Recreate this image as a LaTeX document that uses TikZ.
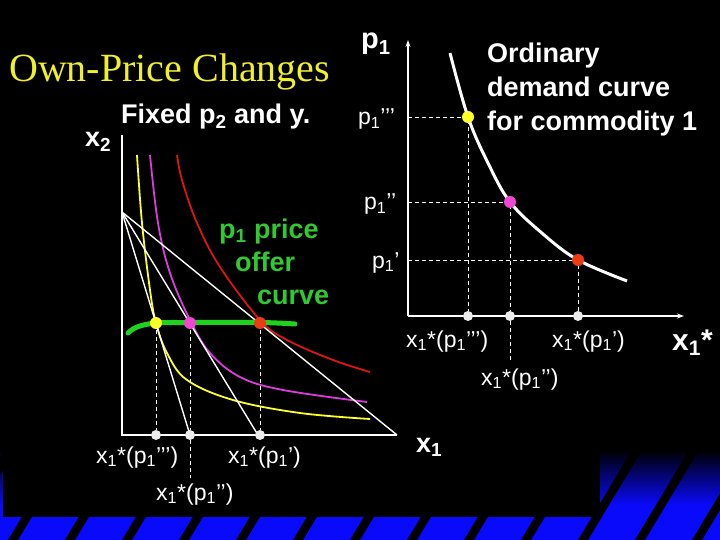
\documentclass[tikz,border=0pt]{standalone}
\usepackage{fontspec}
\setmainfont{Liberation Serif}
\setsansfont{Liberation Sans}
\usetikzlibrary{arrows.meta}
\definecolor{bgblue}{RGB}{10,10,250}
\definecolor{icyel}{RGB}{255,255,40}
\definecolor{icmag}{RGB}{220,60,220}
\definecolor{icred}{RGB}{220,20,20}
\definecolor{offgreen}{RGB}{30,210,30}
\definecolor{txtgreen}{RGB}{50,200,50}
\definecolor{dotred}{RGB}{235,60,20}
\definecolor{dotmag}{RGB}{240,70,210}
\definecolor{titleyel}{RGB}{240,240,40}
\begin{document}
\begin{tikzpicture}[x=1pt,y=-1pt,
  lab/.style={text=white,font=\sffamily\fontsize{23}{23}\selectfont,inner sep=0pt,anchor=base west},
  blab/.style={text=white,font=\sffamily\bfseries\fontsize{27}{27}\selectfont,inner sep=0pt,anchor=base west},
  glab/.style={text=txtgreen,font=\sffamily\bfseries\fontsize{27}{27}\selectfont,inner sep=0pt,anchor=base west},
  axisline/.style={white,line width=2pt},
  budget/.style={white,line width=1.4pt},
  guide/.style={white,line width=0.8pt,dash pattern=on 4pt off 3pt},
  icurve/.style={line width=1.8pt},
  bigdot/.style={circle,inner sep=0pt,minimum size=12pt},
  axdot/.style={circle,inner sep=0pt,minimum size=10pt,fill=white!85!gray}]
% background
\fill[black] (0,0) rectangle (720,540);
\useasboundingbox (0,0) rectangle (720,540);
\begin{scope}
  \clip (0,440) rectangle (720,540);
  \shade[top color=black,bottom color=bgblue] (0,450) rectangle (720,505);
  \fill[bgblue] (0,505) rectangle (720,540);
  \foreach \k in {-2,...,13}{
    \fill[black] ({8+57*\k},540) -- ++(10,0) -- ++(60,-100) -- ++(-10,0) -- cycle;
  }
\end{scope}
\fill[black] (3,0) rectangle (600,517);

% ---------------- left graph ----------------
\node[font=\fontsize{40}{40}\selectfont,text=titleyel,inner sep=0pt,anchor=base west] (title) at (9,82) {Own-Price Changes};
\node[blab] (fixed) at (121,124) {Fixed p\textsubscript{2} and y.};
\node[blab] (x2) at (85,147) {x\textsubscript{2}};

\coordinate (O) at (122,435);
\coordinate (Otop) at (122,135);
\coordinate (Oright) at (397,435);
\coordinate (B) at (122,212);
\coordinate (b1) at (190,435);
\coordinate (b2) at (258,435);
\coordinate (b3) at (397,435);

% indifference curves
\draw[icurve,icyel] plot[smooth,tension=0.6] coordinates {(137,155) (142,223) (150,290) (156,323) (167,353) (187,380) (233,400) (300,413) (370,419)};
\draw[icurve,icmag] plot[smooth,tension=0.6] coordinates {(150,155) (158,223) (170,273) (190,320) (210,353) (240,377) (283,390) (367,402)};
\draw[icurve,icred] plot[smooth,tension=0.6] coordinates {(177,155) (182,180) (197,223) (220,267) (260,320) (287,340) (333,360) (370,372)};

% budget lines
\draw[budget] (B) -- (b1);
\draw[budget] (B) -- (b2);
\draw[budget] (B) -- (b3);

% axes
\draw[axisline] (Otop) -- (O) -- (Oright);

% offer curve
\draw[offgreen,line width=5pt,line cap=round] plot[smooth,tension=0.6] coordinates {(128,333) (137,327) (156,323) (190,322.5) (260,322.5) (295,324)};

% tangency dots and axis dots
\node[axdot] (ay) at (156,435) {};
\node[axdot] (am) at (190,435) {};
\node[axdot] (ar) at (260,435) {};
\coordinate (amlow) at (190,478);
\coordinate (lyc) at (156,323);
\coordinate (lmc) at (190,323);
\coordinate (lrc) at (260,323);
\draw[guide] (lyc) -- (ay);
\draw[guide] (lmc) -- (am) -- (amlow);
\draw[guide] (lrc) -- (ar);
\node[bigdot,fill=icyel] (ly) at (lyc) {};
\node[bigdot,fill=dotmag] (lm) at (lmc) {};
\node[bigdot,fill=dotred] (lr) at (lrc) {};

\node[glab] (pp1) at (219,238) {p\textsubscript{1} price};
\node[glab] (pp2) at (235,271) {offer};
\node[glab] (pp3) at (257,304) {curve};

\node[lab] (lx3) at (96,463) {x\textsubscript{1}*(p\textsubscript{1}’’’)};
\node[lab] (lx1) at (228,463) {x\textsubscript{1}*(p\textsubscript{1}’)};
\node[lab] (lx2) at (156,500) {x\textsubscript{1}*(p\textsubscript{1}’’)};
\node[lab,font=\sffamily\bfseries\fontsize{27}{27}\selectfont] (lx) at (416,452) {x\textsubscript{1}};

% ---------------- right graph ----------------
\coordinate (R) at (408,316);
\coordinate (Rtop) at (408,40);
\coordinate (Rright) at (684,316);
\draw[axisline,line width=1.8pt,-{Stealth[length=7pt,width=5pt]}] (R) -- (Rtop);
\draw[axisline,line width=1.8pt,-{Stealth[length=7pt,width=5pt]}] (R) -- (Rright);

\draw[white,line width=3pt] plot[smooth,tension=0.6] coordinates {(450,53) (468,117) (488,163) (510,202) (543,234) (578,260) (627,281)};

\coordinate (hy) at (408,117);
\coordinate (hm) at (408,202);
\coordinate (hr) at (408,260);
\coordinate (ryc) at (468,117);
\coordinate (rmc) at (510,202);
\coordinate (rrc) at (578,260);
\coordinate (rmlow) at (510,362);
\node[axdot] (rya) at (468,316) {};
\node[axdot] (rma) at (510,316) {};
\node[axdot] (rra) at (578,316) {};
\draw[guide] (hy) -- (ryc) -- (rya);
\draw[guide] (hm) -- (rmc) -- (rma) -- (rmlow);
\draw[guide] (hr) -- (rrc) -- (rra);
\node[bigdot,fill=icyel] (ry) at (ryc) {};
\node[bigdot,fill=dotmag] (rm) at (rmc) {};
\node[bigdot,fill=dotred] (rr) at (rrc) {};

\node[lab,font=\sffamily\bfseries\fontsize{29}{29}\selectfont] (p1) at (361,49) {p\textsubscript{1}};
\node[lab] (p3) at (358,125) {p\textsubscript{1}’’’};
\node[lab] (p2) at (364,210) {p\textsubscript{1}’’};
\node[lab] (p1p) at (372,268) {p\textsubscript{1}’};

\node[blab] (o1) at (487,63) {Ordinary};
\node[blab] (o2) at (487,97) {demand curve};
\node[blab] (o3) at (487,131) {for commodity 1};

\node[lab] (rx3) at (406,347) {x\textsubscript{1}*(p\textsubscript{1}’’’)};
\node[lab] (rx1) at (552,347) {x\textsubscript{1}*(p\textsubscript{1}’)};
\node[lab] (rx2) at (481,385) {x\textsubscript{1}*(p\textsubscript{1}’’)};
\node[lab,font=\sffamily\bfseries\fontsize{30}{30}\selectfont] (xs) at (672,350) {x\textsubscript{1}*};
\end{tikzpicture}
\end{document}
